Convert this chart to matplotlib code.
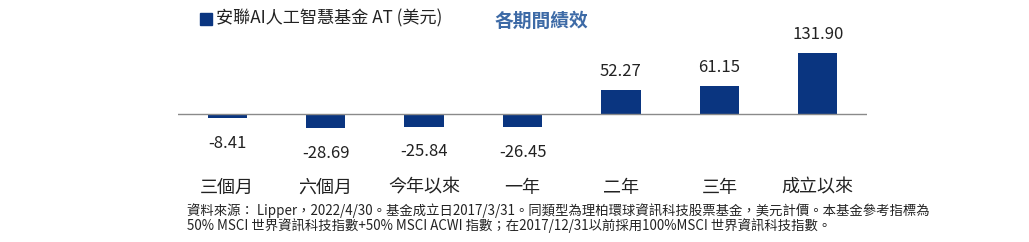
import matplotlib.pyplot as plt

plt.rcParams['font.family'] = ['Noto Sans CJK TC', 'DejaVu Sans']

categories = ['三個月', '六個月', '今年以來', '一年', '二年', '三年', '成立以來']
returns = [-8.41, -28.69, -25.84, -26.45, 52.27, 61.15, 131.90]
legend_label = '安聯AI人工智慧基金 AT (美元)'
title = '各期間績效'
footnote_lines = ['資料來源： Lipper，2022/4/30。基金成立日2017/3/31。同類型為理柏環球資訊科技股票基金，美元計價。本基金參考指標為',
                  '50% MSCI 世界資訊科技指數+50% MSCI ACWI 指數；在2017/12/31以前採用100%MSCI 世界資訊科技指數。']

bar_color = '#0a3580'
W, H = 1029, 242
fig = plt.figure(figsize=(W / 100, H / 100), dpi=100)

# axes placed in pixel terms: x 178..867, y 40..140 (top-down)
ax = fig.add_axes([178 / W, 1 - 140 / H, (867 - 178) / W, 100 / H])
px_per_unit = 0.47
base_y = 114.5
ax.set_ylim(-(140 - base_y) / px_per_unit, (base_y - 40) / px_per_unit)
ax.set_xlim(-0.5, 6.5)

x = range(len(categories))
ax.bar(x, returns, width=0.4, color=bar_color)
ax.axhline(0, color='#8a8a8a', lw=1.0)

for i, v in enumerate(returns):
    if v >= 0:
        ax.annotate(f'{v:.2f}', (i, v), xytext=(0, 7), textcoords='offset points',
                    ha='center', va='bottom', fontsize=12, color='#222222')
    else:
        ax.annotate(f'{v:.2f}', (i, v), xytext=(0, -12), textcoords='offset points',
                    ha='center', va='top', fontsize=12, color='#222222')

for s in ax.spines.values():
    s.set_visible(False)
ax.set_yticks([])
ax.set_xticks(list(x))
ax.set_xticklabels(categories, fontsize=13, color='#222222')
ax.tick_params(axis='x', length=0, pad=28)

# legend square and label
fig.patches.append(plt.Rectangle((200 / W, 1 - 25 / H), 12 / W, 12 / H,
                                 transform=fig.transFigure, color=bar_color))
fig.text(216 / W, 1 - 18 / H, legend_label, fontsize=12.3, va='center', ha='left', color='#222222')
fig.text(541 / W, 1 - 21 / H, title, fontsize=13.5, fontweight='bold', va='center', ha='center',
         color='#3d6aa6')

for k, line in enumerate(footnote_lines):
    fig.text(187 / W, 1 - (211 + 15 * k) / H, line, fontsize=9.6, va='center', ha='left',
             color='#222222')

fig.savefig('out.png', dpi=100)
